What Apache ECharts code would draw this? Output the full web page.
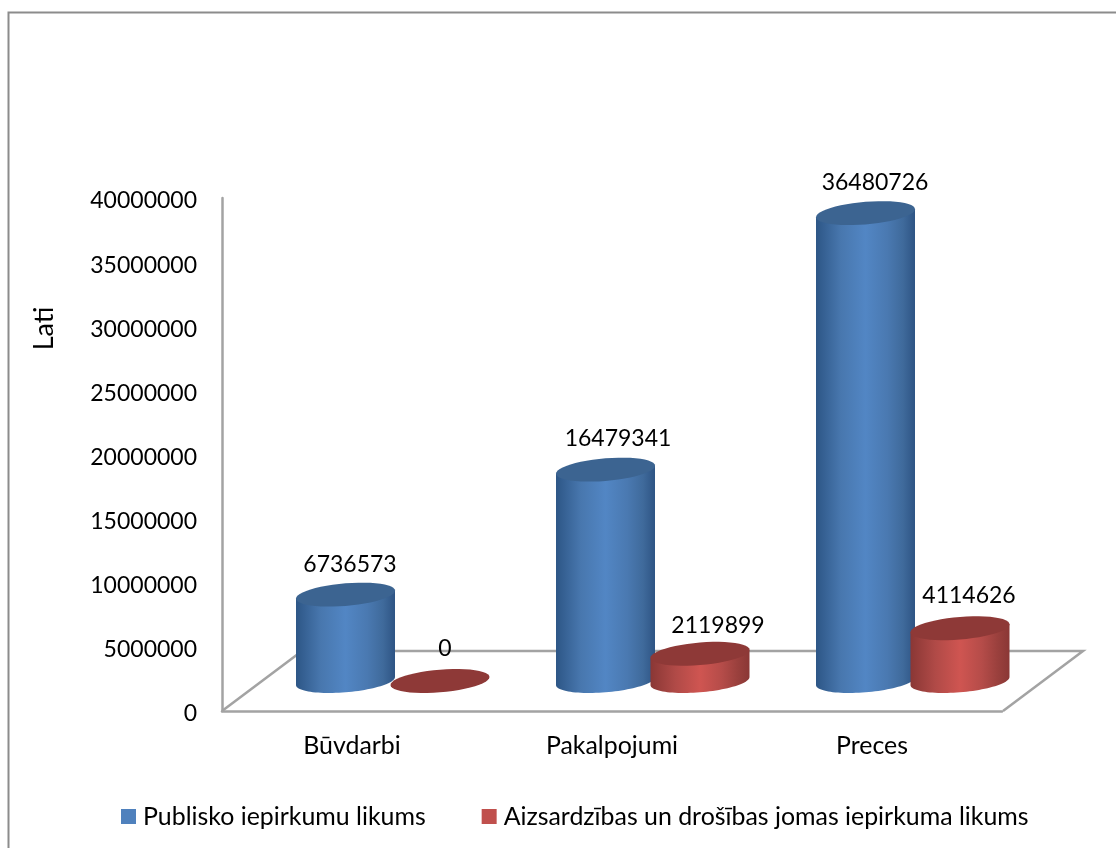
<!DOCTYPE html>
<html>
<head>
<meta charset="utf-8">
<title>Iepirkumi</title>
<script src="https://cdn.jsdelivr.net/npm/echarts@6/dist/echarts.min.js"></script>
<style>
  html, body { margin: 0; padding: 0; background: #fff; }
  #chart { width: 1116px; height: 848px; }
</style>
</head>
<body>
<div id="chart"></div>
<script>
const categories = ['Būvdarbi', 'Pakalpojumi', 'Preces']
const publiskoValues = [6736573, 16479341, 36480726]
const aizsardzibasValues = [0, 2119899, 4114626]
const yTicks = { min: 0, max: 40000000, interval: 5000000 }
const seriesNames = ['Publisko iepirkumu likums', 'Aizsardzības un drošības jomas iepirkuma likums']

const fontFamily = 'Lato, "Noto Sans", sans-serif'
const fontSize = 23
const wideFontSize = 24.9
const lineColor = '#a3a3a3'
const lineWidth = 2.5

// izskats "3D" cilindriem
const cyl = { rx: 49.5, ry: 11.3, skew: 4, lift: 30 }

const blueLook = {
  side: ['#2d5686', '#4877ae', '#5286c4', '#4a79b1', '#3f6a9b', '#2e5484'],
  top: '#3c6491',
  dx: -6.5,
  labelDx: [4.5, 12.5, 9.5],
  labelDy: [-30, -31, -31]
}
const redLook = {
  side: ['#8a3735', '#b04a47', '#cf5551', '#b54c49', '#9a403d', '#8a3735'],
  top: '#8e3937',
  dx: 88,
  labelDx: [5, 18, 9],
  labelDy: [-32, -28, -33]
}

const ellipsePoints = (cx, cy, from, to) => {
  const pts = []
  const steps = 48
  for (let i = 0; i <= steps; i++) {
    const t = from + (to - from) * i / steps
    pts.push([
      cx + cyl.rx * Math.cos(t),
      cy + cyl.ry * Math.sin(t) - cyl.skew * Math.cos(t)
    ])
  }
  return pts
}

const sideStops = [0, 0.25, 0.5, 0.72, 0.88, 1]

const cylinderItem = (look) => (params, api) => {
  const idx = api.value(0)
  const value = api.value(1)
  const zero = api.coord([idx, 0])
  const head = api.coord([idx, value])
  const cx = zero[0] + look.dx
  const baseY = zero[1] - cyl.lift
  const topY = head[1] - cyl.lift

  const children = []
  if (value > 0) {
    const body = ellipsePoints(cx, baseY, Math.PI, 0)
    body.push([cx + cyl.rx, topY - cyl.skew], [cx - cyl.rx, topY + cyl.skew])
    children.push({
      type: 'polygon',
      shape: { points: body },
      style: {
        fill: new echarts.graphic.LinearGradient(0, 0, 1, 0,
          sideStops.map((offset, i) => ({ offset, color: look.side[i] })))
      }
    })
  }
  children.push({
    type: 'polygon',
    shape: { points: ellipsePoints(cx, topY, 0, Math.PI * 2) },
    style: { fill: look.top }
  })
  children.push({
    type: 'text',
    style: {
      x: cx + look.labelDx[idx],
      y: topY + look.labelDy[idx],
      text: String(value),
      fill: '#000',
      font: fontSize + 'px ' + fontFamily,
      textAlign: 'center',
      textVerticalAlign: 'middle'
    }
  })
  return { type: 'group', children }
}

const chart = echarts.init(document.getElementById('chart'), null, { renderer: 'canvas' })

chart.setOption({
  animation: false,
  backgroundColor: '#fff',
  textStyle: { fontFamily },
  grid: { left: 222, right: 114, top: 198, bottom: 137 },
  legend: {
    left: 121,
    top: 804,
    padding: 0,
    itemWidth: 15,
    itemHeight: 15,
    itemGap: 56,
    icon: 'rect',
    data: seriesNames,
    textStyle: { fontSize: wideFontSize, color: '#000', fontFamily, padding: [0, 0, 0, 2] }
  },
  xAxis: {
    type: 'category',
    data: categories,
    axisTick: { show: false },
    axisLine: { lineStyle: { color: lineColor, width: lineWidth } },
    axisLabel: { fontSize: wideFontSize, color: '#000', margin: 22, fontFamily }
  },
  yAxis: {
    type: 'value',
    min: yTicks.min,
    max: yTicks.max,
    interval: yTicks.interval,
    name: 'Lati',
    nameLocation: 'middle',
    nameGap: 164,
    nameTextStyle: { fontSize: 27, color: '#000', fontFamily, padding: [0, 0, 0, 252] },
    axisLine: { show: true, lineStyle: { color: lineColor, width: lineWidth } },
    axisTick: { show: false },
    splitLine: { show: false },
    axisLabel: {
      fontSize,
      color: '#000',
      margin: 25,
      fontFamily,
      verticalAlign: 'top',
      lineHeight: 6,
      formatter: (v) => String(v)
    }
  },
  // rāmis un grīda
  graphic: [
    {
      type: 'polyline',
      silent: true,
      shape: { points: [[8.5, 848], [8.5, 12.5], [1116, 12.5]] },
      style: { stroke: '#8c8c8c', lineWidth: 2, fill: null }
    },
    {
      type: 'polyline',
      silent: true,
      shape: { points: [[222, 711], [302, 651], [1083, 651], [1003, 711]] },
      style: { stroke: lineColor, lineWidth, fill: null }
    }
  ],
  series: [
    {
      name: seriesNames[0],
      type: 'custom',
      clip: false,
      itemStyle: { color: '#4f81bd' },
      encode: { x: 0, y: 1 },
      data: publiskoValues.map((v, i) => [i, v]),
      renderItem: cylinderItem(blueLook)
    },
    {
      name: seriesNames[1],
      type: 'custom',
      clip: false,
      itemStyle: { color: '#c0504d' },
      encode: { x: 0, y: 1 },
      data: aizsardzibasValues.map((v, i) => [i, v]),
      renderItem: cylinderItem(redLook)
    }
  ]
})
</script>
</body>
</html>
